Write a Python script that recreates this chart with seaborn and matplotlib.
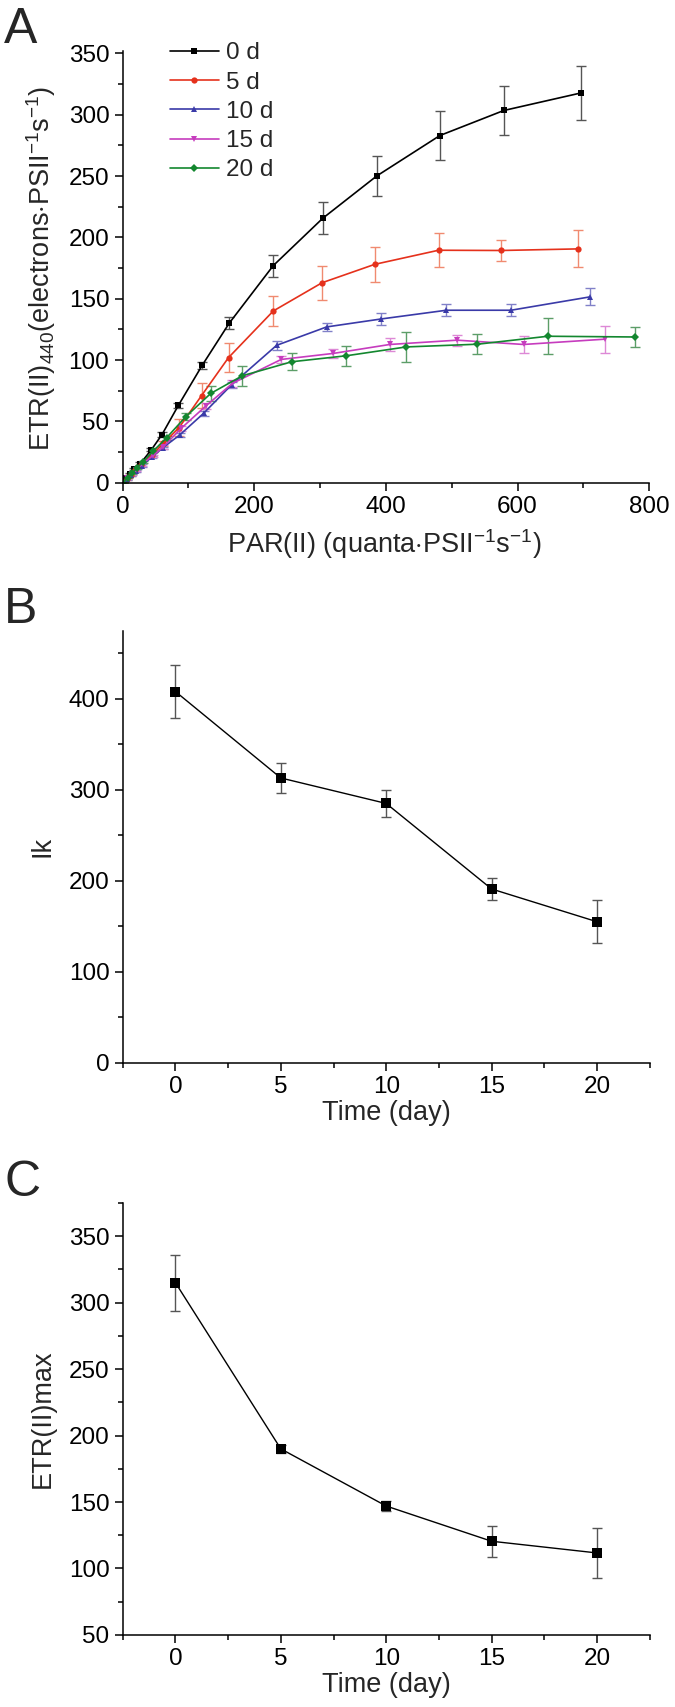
import pandas as pd
import matplotlib
matplotlib.use("Agg")
import matplotlib.pyplot as plt
from matplotlib.ticker import MultipleLocator
import seaborn as sns

# Panel A: rapid light curves, one series per day
series = ["0 d", "5 d", "10 d", "15 d", "20 d"]
par_0 = [0, 6, 12, 18, 27, 44, 60, 85, 121, 162, 229, 304, 386, 482, 579, 697]
etr_0 = [0, 3.5, 7.5, 11, 15.6, 27, 39.3, 63.2, 95.7, 130, 177, 215.5, 250, 283, 303.4, 317.8]
err_0 = [0.3, 0.5, 0.8, 1, 1, 1.5, 2, 2, 3, 5, 9, 13, 16, 20, 20, 22]
par_5 = [0, 7, 13, 19, 28, 45, 62, 86, 120, 161, 229, 303, 383, 480, 575, 692]
etr_5 = [0, 3, 6.5, 10, 14.5, 23, 32, 45, 71, 102, 140, 163, 178, 189.5, 189.3, 190.6]
err_5 = [0.3, 0.5, 0.8, 1, 1, 1.5, 2, 7, 10, 12, 12.5, 14, 14, 14, 8.5, 15]
par_10 = [0, 7, 13, 20, 29, 45, 61, 87, 123, 166, 234, 310, 393, 492, 590, 710]
etr_10 = [0, 3, 6, 9.5, 14, 21, 28.4, 39, 56.5, 80, 112, 127, 133.5, 140.6, 140.6, 151.5]
err_10 = [0.3, 0.5, 0.5, 1, 1, 1, 1, 1.5, 2, 2.5, 3.5, 3, 5, 5, 5, 7]
par_15 = [0, 7, 14, 21, 29, 46, 62, 89, 127, 167, 241, 320, 406, 508, 609, 732]
etr_15 = [0, 3.5, 7, 10.5, 15, 22, 29.3, 44.3, 62.8, 81, 100.5, 105.4, 112.7, 116.2, 112.7, 117]
err_15 = [0.3, 0.5, 0.5, 1, 1, 1, 1.5, 2, 2.5, 3, 3, 3.8, 5, 4.5, 7, 11]
par_20 = [0, 8, 15, 22, 31, 47, 67, 96, 134, 182, 257, 340, 431, 539, 646, 778]
etr_20 = [0, 4, 8, 12, 17, 26, 36.7, 53.8, 72.8, 87.2, 98.6, 103.5, 110.7, 112.9, 119.4, 118.8]
err_20 = [0.3, 0.5, 0.5, 1, 1, 1, 1.5, 3, 6.4, 8, 7, 8, 12, 8, 14.5, 8]

# Panels B and C: fitted parameters over time
days = [0, 5, 10, 15, 20]
ik = [408, 313, 285, 191, 155]
ik_err = [29, 16, 14.5, 12, 23.5]
etr_max = [315, 190, 147, 120.5, 111.7]
etr_max_err = [21, 3, 4, 11.7, 19]

par_all = [par_0, par_5, par_10, par_15, par_20]
etr_all = [etr_0, etr_5, etr_10, etr_15, etr_20]
err_all = [err_0, err_5, err_10, err_15, err_20]

rows = []
for name, px, py, pe in zip(series, par_all, etr_all, err_all):
    for a, b, c in zip(px, py, pe):
        rows.append({"series": name, "par": a, "etr": b, "err": c})
df_a = pd.DataFrame(rows)

sns.set_theme(style="ticks")
plt.rcParams["font.family"] = ["Liberation Sans", "DejaVu Sans"]
plt.rcParams["mathtext.fontset"] = "custom"
plt.rcParams["mathtext.rm"] = "Liberation Sans"
plt.rcParams["mathtext.it"] = "Liberation Sans"
plt.rcParams["axes.linewidth"] = 1.1
for ax_name in ["xtick", "ytick"]:
    plt.rcParams[ax_name + ".direction"] = "out"
    plt.rcParams[ax_name + ".major.size"] = 6
    plt.rcParams[ax_name + ".minor.size"] = 3.5
    plt.rcParams[ax_name + ".major.width"] = 1.1
    plt.rcParams[ax_name + ".minor.width"] = 1.1
    plt.rcParams[ax_name + ".labelsize"] = 17.5
    plt.rcParams[ax_name + ".color"] = "black"
    plt.rcParams[ax_name + ".labelcolor"] = "black"

label_size = 19.5

fig = plt.figure(figsize=(6.75, 17.07), dpi=100)
ax_a = fig.add_axes([0.1815, 0.7172, 0.7804, 0.2530])
ax_b = fig.add_axes([0.1818, 0.3774, 0.7807, 0.2532])
ax_c = fig.add_axes([0.1818, 0.0422, 0.7807, 0.2531])

colors = {"0 d": "#000000", "5 d": "#e5311c", "10 d": "#3a3aa8",
          "15 d": "#c63cbe", "20 d": "#13872f"}
err_colors = {"0 d": "#555555", "5 d": "#f08a70", "10 d": "#8080c8",
              "15 d": "#dd88d6", "20 d": "#5c9e68"}
markers = {"0 d": "s", "5 d": "o", "10 d": "^", "15 d": "v", "20 d": "D"}

for name in series:
    sub = df_a[df_a["series"] == name]
    ax_a.errorbar(sub["par"], sub["etr"], yerr=sub["err"], fmt="none",
                  ecolor=err_colors[name], elinewidth=1.0, capsize=3.5,
                  capthick=1.0, zorder=1)

sns.lineplot(data=df_a, x="par", y="etr", hue="series", style="series",
             hue_order=series, style_order=series, palette=colors,
             markers=markers, dashes=False, markersize=4.5, linewidth=1.2,
             markeredgewidth=0, ax=ax_a, zorder=2)

handles, labels = ax_a.get_legend_handles_labels()
ax_a.legend(handles, labels, loc="upper left", bbox_to_anchor=(0.09, 1.02),
            frameon=False, fontsize=17.5, handlelength=2.0, handletextpad=0.3,
            labelspacing=0.3, borderpad=0, borderaxespad=0)

ax_a.set_xlim(0, 800)
ax_a.set_ylim(0, 352)
ax_a.xaxis.set_major_locator(MultipleLocator(200))
ax_a.xaxis.set_minor_locator(MultipleLocator(100))
ax_a.yaxis.set_major_locator(MultipleLocator(50))
ax_a.yaxis.set_minor_locator(MultipleLocator(25))
ax_a.set_xlabel(r"PAR(II) (quanta$\cdot$PSII$^{-1}$s$^{-1}$)", fontsize=label_size)
ax_a.set_ylabel(r"ETR(II)$_{440}$(electrons$\cdot$PSII$^{-1}$s$^{-1}$)", fontsize=label_size)
ax_a.xaxis.set_label_coords(0.496, -0.102)
ax_a.yaxis.set_label_coords(-0.122, 0.497)

# Panel B
df_b = pd.DataFrame({"day": days, "ik": ik, "err": ik_err})
ax_b.errorbar(df_b["day"], df_b["ik"], yerr=df_b["err"], fmt="none",
              ecolor="#555555", elinewidth=1.0, capsize=3.5, capthick=1.0)
sns.lineplot(data=df_b, x="day", y="ik", color="black", marker="s",
             markersize=7, markeredgewidth=0, linewidth=1.0, ax=ax_b)
ax_b.set_xlim(-2.5, 22.5)
ax_b.set_ylim(0, 475)
ax_b.xaxis.set_major_locator(MultipleLocator(5))
ax_b.xaxis.set_minor_locator(MultipleLocator(2.5))
ax_b.yaxis.set_major_locator(MultipleLocator(100))
ax_b.yaxis.set_minor_locator(MultipleLocator(50))
ax_b.set_xlabel("Time (day)", fontsize=label_size)
ax_b.set_ylabel("Ik", fontsize=label_size)
ax_b.xaxis.set_label_coords(0.5, -0.086)
ax_b.yaxis.set_label_coords(-0.127, 0.5)

# Panel C
df_c = pd.DataFrame({"day": days, "etr_max": etr_max, "err": etr_max_err})
ax_c.errorbar(df_c["day"], df_c["etr_max"], yerr=df_c["err"], fmt="none",
              ecolor="#555555", elinewidth=1.0, capsize=3.5, capthick=1.0)
sns.lineplot(data=df_c, x="day", y="etr_max", color="black", marker="s",
             markersize=7, markeredgewidth=0, linewidth=1.0, ax=ax_c)
ax_c.set_xlim(-2.5, 22.5)
ax_c.set_ylim(50, 375)
ax_c.xaxis.set_major_locator(MultipleLocator(5))
ax_c.xaxis.set_minor_locator(MultipleLocator(2.5))
ax_c.yaxis.set_major_locator(MultipleLocator(50))
ax_c.yaxis.set_minor_locator(MultipleLocator(25))
ax_c.set_xlabel("Time (day)", fontsize=label_size)
ax_c.set_ylabel("ETR(II)max", fontsize=label_size)
ax_c.xaxis.set_label_coords(0.5, -0.086)
ax_c.yaxis.set_label_coords(-0.127, 0.5)

for ax in [ax_a, ax_b, ax_c]:
    sns.despine(ax=ax)
    ax.spines["left"].set_color("black")
    ax.spines["bottom"].set_color("black")

fig.text(0.006, 1 - 43 / 1707, "A", fontsize=36, va="baseline")
fig.text(0.006, 1 - 623 / 1707, "B", fontsize=36, va="baseline")
fig.text(0.006, 1 - 1196 / 1707, "C", fontsize=36, va="baseline")

fig.savefig("out.png", dpi=100)
